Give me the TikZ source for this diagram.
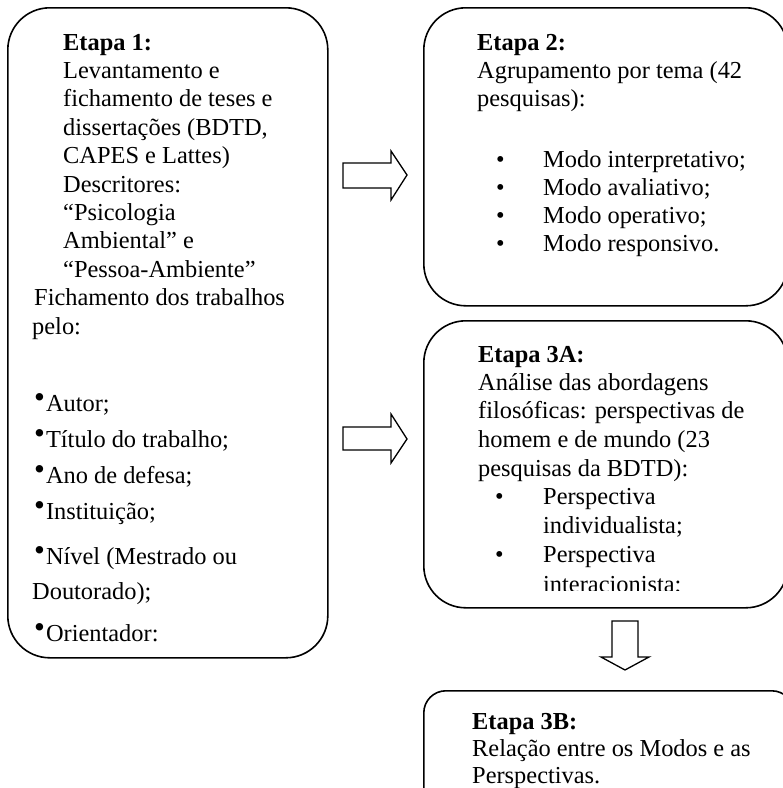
\documentclass[tikz,border=0pt]{standalone}
\usepackage{fontspec}
\setmainfont{Liberation Serif}
\begin{document}
\begin{tikzpicture}[x=1pt,y=-1pt,
  stage/.style={draw, line width=1.6pt, rounded corners=42pt, anchor=north west, inner sep=0pt},
  txt/.style={anchor=base west, inner sep=0pt, font=\fontsize{24.4}{28.4}\selectfont},
  blockarrow/.style={draw, line width=1.3pt, fill=white, line join=miter}]
\newcommand{\smallbul}{\raisebox{4pt}{\fontsize{31}{31}\selectfont •}\hspace{1pt}}
\useasboundingbox (0,0) rectangle (783,788);

% boxes
\node[stage, minimum width=320pt, minimum height=650pt] (e1) at (7,7) {};
\node[stage, minimum width=364pt, minimum height=298pt] (e2) at (423,7) {};
\node[stage, minimum width=364pt, minimum height=287pt] (e3a) at (423,320) {};
\node[stage, rounded corners=22pt, minimum width=370pt, minimum height=130pt] (e3b) at (423,690) {};

% block arrows
\draw[blockarrow] (343,163) coordinate (a1s) -- (391,163) -- (391,151) -- (407,175) coordinate (a1t) -- (391,200) -- (391,188) -- (343,188) -- cycle;
\draw[blockarrow] (343,427) coordinate (a2s) -- (391,427) -- (391,414) -- (407,439) coordinate (a2t) -- (391,463) -- (391,450) -- (343,450) -- cycle;
\draw[blockarrow] (612,621) coordinate (a3s) -- (638,621) -- (638,657) -- (649,657) -- (625,670) coordinate (a3t) -- (601,657) -- (612,657) -- cycle;

% Etapa 1 text
\node[txt] (t1a) at (63,50) {\textbf{Etapa 1:}};
\node[txt] (t1b) at (63,78.4) {Levantamento e};
\node[txt] (t1c) at (63,106.8) {fichamento de teses e};
\node[txt] (t1d) at (63,135.2) {dissertações (BDTD,};
\node[txt] (t1e) at (63,163.6) {CAPES e Lattes)};
\node[txt] (t1f) at (63,192) {Descritores:};
\node[txt] (t1g) at (63,220.4) {“Psicologia};
\node[txt] (t1h) at (63,248.8) {Ambiental” e};
\node[txt] (t1i) at (63,277.2) {“Pessoa-Ambiente”};
\node[txt] (t1j) at (34,305.6) {Fichamento dos trabalhos};
\node[txt] (t1k) at (32,334) {pelo:};
\node[txt] (b1) at (34,411) {\smallbul Autor;};
\node[txt] (b2) at (34,447) {\smallbul Título do trabalho;};
\node[txt] (b3) at (34,483) {\smallbul Ano de defesa;};
\node[txt] (b4) at (34,519) {\smallbul Instituição;};
\node[txt] (b5) at (34,564) {\smallbul Nível (Mestrado ou};
\node[txt] (b5b) at (32,599) {Doutorado);};
\node[txt] (b6) at (34,641) {\smallbul Orientador:};

% Etapa 2 text
\node[txt] (t2a) at (477,50) {\textbf{Etapa 2:}};
\node[txt] (t2b) at (477,78.4) {Agrupamento por tema (42};
\node[txt] (t2c) at (477,106.8) {pesquisas):};
\node[txt] (m1d) at (496,167) {•};
\node[txt] (m1) at (543,167) {Modo interpretativo;};
\node[txt] (m2d) at (496,195) {•};
\node[txt] (m2) at (543,195) {Modo avaliativo;};
\node[txt] (m3d) at (496,223) {•};
\node[txt] (m3) at (543,223) {Modo operativo;};
\node[txt] (m4d) at (496,251) {•};
\node[txt] (m4) at (543,251) {Modo responsivo.};

% Etapa 3A text (clipped at the bottom)
\begin{scope}
\clip (423,320) rectangle (783,590);
\node[txt] (t3a) at (478,362) {\textbf{Etapa 3A:}};
\node[txt] (t3b) at (478,390) {Análise das abordagens};
\node[txt] (t3c) at (478,418.5) {filosóficas: perspectivas de};
\node[txt] (t3d) at (478,447) {homem e de mundo (23};
\node[txt] (t3e) at (478,476) {pesquisas da BDTD):};
\node[txt] (p1d) at (495,504.5) {•};
\node[txt] (p1) at (543,504.5) {Perspectiva};
\node[txt] (p1b) at (543,533) {individualista;};
\node[txt] (p2d) at (495,562) {•};
\node[txt] (p2) at (543,562) {Perspectiva};
\node[txt] (p2b) at (543,592) {interacionista;};
\end{scope}

% Etapa 3B text
\node[txt] (t4a) at (472,729) {\textbf{Etapa 3B:}};
\node[txt] (t4b) at (472,756) {Relação entre os Modos e as};
\node[txt] (t4c) at (472,783) {Perspectivas.};
\end{tikzpicture}
\end{document}
